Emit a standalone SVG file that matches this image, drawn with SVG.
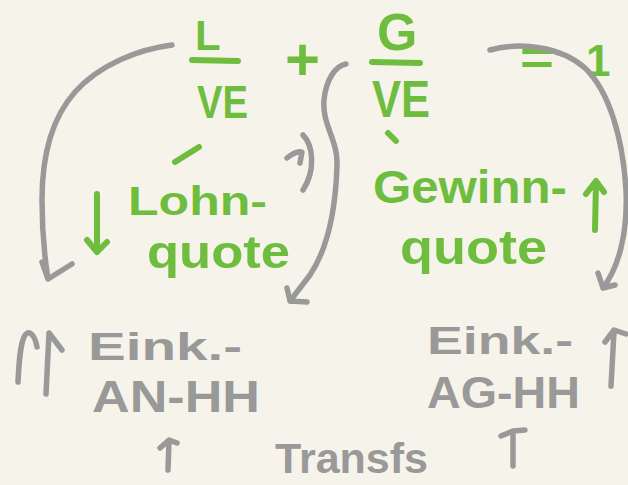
<svg xmlns="http://www.w3.org/2000/svg" width="628" height="485" viewBox="0 0 628 485">
<style>
.g{fill:#6fbd3f;font-family:"Liberation Sans","DejaVu Sans",sans-serif;font-weight:bold}
.k{fill:#999;font-family:"Liberation Sans","DejaVu Sans",sans-serif;font-weight:bold}
.gs{fill:none;stroke:#6fbd3f;stroke-width:6;stroke-linecap:round;stroke-linejoin:round}
.ks{fill:none;stroke:#999;stroke-width:5.5;stroke-linecap:round;stroke-linejoin:round}
</style>
<rect width="628" height="485" fill="#f6f4ea"/>
<g id="lohn-fraction">
<text class="g" x="195" y="50" font-size="42">L</text>
<path class="gs" d="M192,60 L238,61"/>
<text class="g" x="197" y="118" font-size="46" textLength="51" lengthAdjust="spacingAndGlyphs">VE</text>
</g>
<g id="plus"><text class="g" x="285" y="80" font-size="60">+</text></g>
<g id="gewinn-fraction">
<text class="g" x="377" y="50" font-size="52">G</text>
<path class="gs" d="M372,62 L420,63"/>
<text class="g" x="372" y="117" font-size="52" textLength="58" lengthAdjust="spacingAndGlyphs">VE</text>
<path class="gs" d="M388,133 L396,141"/>
</g>
<g id="equals-one">
<text class="g" x="520" y="74" font-size="46" textLength="34" lengthAdjust="spacingAndGlyphs">=</text>
<text class="g" x="586" y="76" font-size="44">1</text>
</g>
<g id="lohnquote">
<path class="gs" d="M175,162 L199,147"/>
<path class="gs" d="M97,194 L97,251 M87,240 L97,252 L107,242"/>
<text class="g" x="128" y="215" font-size="40" textLength="139" lengthAdjust="spacingAndGlyphs">Lohn-</text>
<text class="g" x="147" y="268" font-size="46" textLength="143" lengthAdjust="spacingAndGlyphs">quote</text>
</g>
<g id="gewinnquote">
<text class="g" x="373" y="203" font-size="46" textLength="194" lengthAdjust="spacingAndGlyphs">Gewinn-</text>
<text class="g" x="400" y="264" font-size="48" textLength="147" lengthAdjust="spacingAndGlyphs">quote</text>
<path class="gs" d="M595,230 L596,182 M586,194 L596,181 L604,192"/>
</g>
<g id="eink-an">
<path class="ks" d="M18,382 C19,362 20,346 24,337 C27,330 34,331 37,347 M46,394 L49,333 L62,350"/>
<text class="k" x="88" y="360" font-size="38" textLength="154" lengthAdjust="spacingAndGlyphs">Eink.-</text>
<text class="k" x="92" y="412" font-size="44" textLength="168" lengthAdjust="spacingAndGlyphs">AN-HH</text>
</g>
<g id="eink-ag">
<text class="k" x="427" y="354" font-size="38" textLength="146" lengthAdjust="spacingAndGlyphs">Eink.-</text>
<text class="k" x="427" y="408" font-size="44" textLength="153" lengthAdjust="spacingAndGlyphs">AG-HH</text>
<path class="ks" d="M611,386 L614,332 M605,342 L614,330 L626,334"/>
</g>
<g id="transfer">
<path class="ks" d="M168,470 L169,441 M160,448 L169,440 L177,443"/>
<text class="k" x="275" y="473" font-size="42" textLength="153" lengthAdjust="spacingAndGlyphs">Transfs</text>
<path class="ks" d="M513,466 L513,432 M501,436 L513,431 L525,430"/>
</g>
<g id="connectors">
<path class="ks" d="M172,45 C140,49 100,64 75,92 C50,120 42,160 42,200 C42,235 45,260 48,279 M42,262 L48,279 L72,264"/>
<path class="ks" d="M346,64 C335,66 326,80 324,100 C322,125 338,140 337,165 C336,200 330,245 310,275 L290,301 M287,288 L290,301 L307,302"/>
<path class="ks" d="M490,50 C520,42 560,46 585,68 C610,92 623,140 626,190 C628,235 618,268 603,288 M598,273 L603,288 L615,285"/>
<path class="ks" d="M287,158 C293,153 299,151 302,152 L300,163 M303,135 C313,145 316,170 303,190"/>
</g>
</svg>
